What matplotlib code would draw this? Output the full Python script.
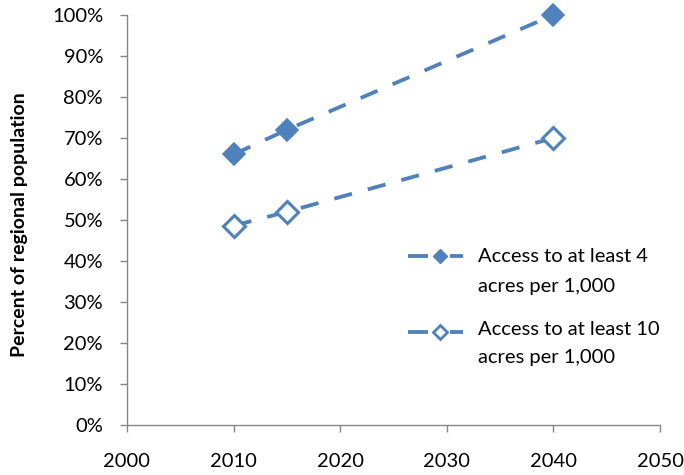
import matplotlib
matplotlib.use("Agg")
import matplotlib.pyplot as plt
from matplotlib.ticker import FuncFormatter
from matplotlib.lines import Line2D

years = [2010, 2015, 2040]
access_4 = [66, 72, 100]
access_10 = [48.6, 52, 70]
labels = [["Access to at least 4", "acres per 1,000"],
          ["Access to at least 10", "acres per 1,000"]]
y_label = "Percent of regional population"

plt.rcParams['font.family'] = ['Lato', 'DejaVu Sans']
color = "#4F81BD"
axis_color = "#868686"
fs = 14.5
W, H = 684, 475

fig = plt.figure(figsize=(6.84, 4.75), dpi=100)
ax = fig.add_axes([127/W, 1-425/H, 533/W, 410/H])

dash = (0, (4.8, 4.3))
lw = 2.75
ax.plot(years, access_4, color=color, lw=lw, linestyle=dash, marker='D', markersize=11.5,
        markerfacecolor=color, markeredgecolor=color, markeredgewidth=1.2, clip_on=False)
ax.plot(years, access_10, color=color, lw=lw, linestyle=dash, marker='D', markersize=11,
        markerfacecolor='white', markeredgecolor=color, markeredgewidth=2.2, clip_on=False)

ax.set_xlim(2000, 2050)
ax.set_ylim(0, 100)
ax.set_xticks(range(2000, 2051, 10))
ax.set_yticks(range(0, 101, 10))
ax.yaxis.set_major_formatter(FuncFormatter(lambda v, p: f"{int(v)}%"))

for s in ['top', 'right']:
    ax.spines[s].set_visible(False)
for s in ['left', 'bottom']:
    ax.spines[s].set_color(axis_color)
    ax.spines[s].set_linewidth(1.0)
ax.tick_params(axis='both', colors=axis_color, length=5.2, width=1.0, direction='out',
               labelcolor='black', labelsize=fs)
ax.tick_params(axis='x', pad=15)
ax.tick_params(axis='y', pad=12)

fig.text(20/W, 1-225/H, y_label, rotation=90, ha='center', va='center',
         fontsize=14, fontweight='bold')

# Legend drawn manually (Excel-style: handle aligned with first text line)
def fx(px):
    return px / W

def fy(py):
    return 1 - py / H

legend_specs = [
    (256, [262, 292], dict(markerfacecolor=color, markeredgewidth=1.0, markersize=7.5)),
    (332, [335, 363], dict(markerfacecolor='white', markeredgewidth=2.0, markersize=7)),
]
for (hy, baselines, mk), lines in zip(legend_specs, labels):
    for x0, x1 in [(408, 428), (450, 463)]:
        fig.add_artist(Line2D([fx(x0), fx(x1)], [fy(hy), fy(hy)], color=color, lw=lw,
                              solid_capstyle='butt', transform=fig.transFigure))
    fig.add_artist(Line2D([fx(440)], [fy(hy)], marker='D', markeredgecolor=color,
                          linestyle='none', transform=fig.transFigure, **mk))
    for txt, by in zip(lines, baselines):
        fig.text(fx(478), fy(by), txt, ha='left', va='baseline', fontsize=fs)

fig.savefig("out.png", dpi=100)
